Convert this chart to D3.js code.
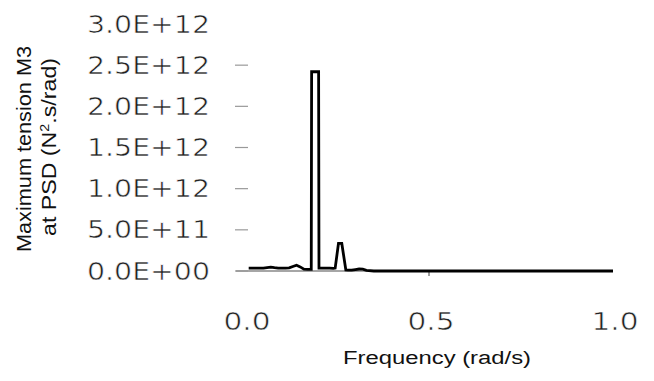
<!DOCTYPE html>
<html>
<head>
<meta charset="utf-8">
<script src="https://cdn.jsdelivr.net/npm/d3@7"></script>
<style>
  html, body { margin: 0; padding: 0; background: #fff; }
  svg { display: block; }
  .tick-label { font-family: "DejaVu Sans", sans-serif; font-size: 24px; fill: #222; stroke: #fff; stroke-width: 0.6px; }
  .axis-title { font-family: "Liberation Sans", Arial, sans-serif; fill: #111; }
</style>
</head>
<body>
<svg id="chart" width="654" height="381"></svg>
<script>
// Spectral density of maximum tension (mooring line M3)
const frequency = [
  0.01, 0.02, 0.03, 0.04, 0.05, 0.06, 0.07, 0.08, 0.09, 0.10,
  0.11, 0.12, 0.13, 0.14, 0.15, 0.16, 0.17, 0.18, 0.181, 0.20,
  0.201, 0.21, 0.22, 0.23, 0.24, 0.245, 0.254, 0.263, 0.274, 0.28,
  0.29, 0.30, 0.31, 0.32, 0.33, 0.35, 0.40, 0.50, 0.60, 0.70,
  0.80, 0.90, 1.00
];
const psd = [
  3.5e10, 3.5e10, 3.5e10, 3.5e10, 3.6e10, 4.2e10, 4.6e10, 4.0e10, 3.5e10, 3.4e10,
  3.4e10, 3.8e10, 5.5e10, 7.0e10, 5.0e10, 2.2e10, 2.0e10, 2.0e10, 2.42e12, 2.42e12,
  3.5e10, 3.5e10, 3.4e10, 3.4e10, 3.2e10, 3.5e10, 3.35e11, 3.35e11, 1.2e10, 1.0e10,
  1.0e10, 1.8e10, 2.4e10, 2.2e10, 8e9, 0, 0, 0, 0, 0,
  0, 0, 0
];

const yTicks = [0, 5e11, 1e12, 1.5e12, 2e12, 2.5e12, 3e12];
const yTickLabels = ["0.0E+00", "5.0E+11", "1.0E+12", "1.5E+12", "2.0E+12", "2.5E+12", "3.0E+12"];
const xTicks = [0, 0.5, 1.0];
const xTickLabels = ["0.0", "0.5", "1.0"];

const svg = d3.select("#chart");

const x = d3.scaleLinear().domain([-0.0245, 1.0]).range([236, 613]);
const y = d3.scaleLinear().domain([0, 3e12]).range([271, 24]);

// Horizontal frequency axis line
svg.append("line")
  .attr("x1", x.range()[0]).attr("x2", x.range()[1])
  .attr("y1", y(0)).attr("y2", y(0))
  .attr("stroke", "#888").attr("stroke-width", 1.6);

// Single downward tick at the mid-point of the frequency axis
svg.append("line")
  .attr("x1", x(0.5)).attr("x2", x(0.5))
  .attr("y1", y(0)).attr("y2", y(0) + 5)
  .attr("stroke", "#888").attr("stroke-width", 1.6);

// Value-axis tick marks (no axis line drawn)
svg.selectAll(".ytick")
  .data(yTicks.filter(v => v < 3e12))
  .join("line")
  .attr("class", "ytick")
  .attr("x1", 235).attr("x2", 248)
  .attr("y1", d => y(d)).attr("y2", d => y(d))
  .attr("stroke", "#999").attr("stroke-width", 1.2);

// Value-axis labels (wide set)
svg.selectAll(".ylab")
  .data(yTicks)
  .join("text")
  .attr("class", "tick-label")
  .attr("x", 87)
  .attr("y", d => y(d))
  .attr("dy", "0.36em")
  .attr("textLength", 123)
  .attr("lengthAdjust", "spacingAndGlyphs")
  .text((d, i) => yTickLabels[i]);

// Frequency-axis labels
svg.selectAll(".xlab")
  .data(xTicks)
  .join("text")
  .attr("class", "tick-label")
  .attr("x", d => x(d) + 2 - 23.5)
  .attr("y", 321)
  .attr("dy", "0.36em")
  .attr("textLength", 47)
  .attr("lengthAdjust", "spacingAndGlyphs")
  .text((d, i) => xTickLabels[i]);

// PSD curve
const line = d3.line()
  .x((d, i) => x(frequency[i]))
  .y(d => y(d));

svg.append("path")
  .datum(psd)
  .attr("d", line)
  .attr("fill", "none")
  .attr("stroke", "#000")
  .attr("stroke-width", 2.8)
  .attr("stroke-linejoin", "miter");

// Axis titles
svg.append("text")
  .attr("class", "axis-title")
  .attr("font-size", 18)
  .attr("x", 343).attr("y", 364)
  .attr("textLength", 188)
  .attr("lengthAdjust", "spacingAndGlyphs")
  .text("Frequency (rad/s)");

const yTitle = svg.append("g").attr("transform", "translate(0,148) rotate(-90)");
yTitle.append("text")
  .attr("class", "axis-title")
  .attr("font-size", 21)
  .attr("x", -104).attr("y", 31)
  .attr("textLength", 206)
  .attr("lengthAdjust", "spacingAndGlyphs")
  .text("Maximum tension M3");
const l2 = yTitle.append("text")
  .attr("class", "axis-title")
  .attr("font-size", 21)
  .attr("x", -88).attr("y", 56)
  .attr("textLength", 178)
  .attr("lengthAdjust", "spacingAndGlyphs");
l2.append("tspan").text("at PSD (N");
l2.append("tspan").attr("baseline-shift", "super").attr("font-size", "13px").text("2");
l2.append("tspan").text(".s/rad)");
</script>
</body>
</html>
